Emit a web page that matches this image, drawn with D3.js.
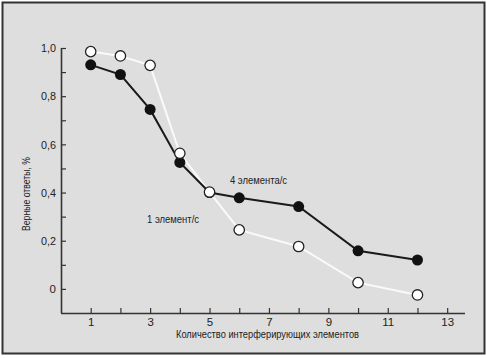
<!DOCTYPE html>
<html>
<head>
<meta charset="utf-8">
<script src="https://cdn.jsdelivr.net/npm/d3@7"></script>
<style>
  html, body { margin: 0; padding: 0; background: #fff; }
  svg text { font-family: "Liberation Sans Narrow", "Arial Narrow", "Liberation Sans", sans-serif; fill: #222; }
</style>
</head>
<body>
<div id="chart"></div>
<script>
// Data
const counts = [1, 2, 3, 4, 5, 6, 8, 10, 12];
const fast = [0.93, 0.89, 0.745, 0.525, 0.40, 0.378, 0.342, 0.158, 0.12];   // 4 элемента/с
const slow = [0.985, 0.967, 0.928, 0.563, 0.402, 0.245, 0.176, 0.026, -0.025]; // 1 элемент/с
const xTicks = [1, 2, 3, 4, 5, 6, 7, 8, 9, 10, 11, 12, 13];
const xLabeled = [1, 3, 5, 7, 9, 11, 13];
const yTicks = [0, 0.1, 0.2, 0.3, 0.4, 0.5, 0.6, 0.7, 0.8, 0.9, 1.0];
const yLabeled = [0, 0.2, 0.4, 0.6, 0.8, 1.0];

const W = 487, H = 358;

const svg = d3.select('#chart').append('svg')
  .attr('width', W).attr('height', H);

// Frame
svg.append('rect')
  .attr('x', 2.5).attr('y', 2.5).attr('width', 482).attr('height', 351)
  .attr('fill', '#dedede').attr('stroke', '#333').attr('stroke-width', 2);

const x = d3.scaleLinear().domain([0, 13.6]).range([61, 465]);
const y = d3.scaleLinear().domain([-0.1, 1.0]).range([313, 48]);

const fmt = d => d3.format('.1f')(d).replace('.', ',').replace(/^0,0$/, '0');

// Axes
const xAxis = svg.append('g')
  .attr('transform', `translate(0,${y(-0.1)})`)
  .call(d3.axisBottom(x).tickValues(xTicks).tickSize(-5).tickPadding(5)
    .tickFormat(d => xLabeled.includes(d) ? d : ''));

const yAxis = svg.append('g')
  .attr('transform', `translate(${x(0)},0)`)
  .call(d3.axisLeft(y).tickValues(yTicks).tickSize(-5).tickPadding(5)
    .tickFormat(d => yLabeled.some(v => Math.abs(v - d) < 1e-9) ? fmt(d) : ''));

[xAxis, yAxis].forEach(a => {
  a.select('.domain').attr('stroke', '#333').attr('stroke-width', 1.6);
  a.selectAll('.tick line').attr('stroke', '#333').attr('stroke-width', 1.2);
  a.selectAll('.tick text').attr('font-size', 11.5).attr('fill', '#222');
});
// replace the domain paths with plain lines matching the reference extents
xAxis.select('.domain').attr('d', `M${x(0)},0.5H${x(13.6)}`);
yAxis.select('.domain').attr('d', `M0.5,${y(-0.1)}V${y(1.0)}`);
yAxis.selectAll('.tick text').filter(function () { return this.textContent.includes(','); })
  .attr('textLength', 15).attr('lengthAdjust', 'spacingAndGlyphs');

const pts = (vals) => counts.map((c, i) => ({ x: c, y: vals[i] }));
const line = d3.line().x(d => x(d.x)).y(d => y(d.y));

// 1 элемент/с line (white)
svg.append('path').datum(pts(slow))
  .attr('fill', 'none').attr('stroke', '#fafafa').attr('stroke-width', 2)
  .attr('d', line);

// 4 элемента/с line (black)
svg.append('path').datum(pts(fast))
  .attr('fill', 'none').attr('stroke', '#1a1a1a').attr('stroke-width', 2)
  .attr('d', line);

svg.append('g').selectAll('circle').data(pts(fast)).join('circle')
  .attr('cx', d => x(d.x)).attr('cy', d => y(d.y)).attr('r', 5.5)
  .attr('fill', '#111');

svg.append('g').selectAll('circle').data(pts(slow)).join('circle')
  .attr('cx', d => x(d.x)).attr('cy', d => y(d.y)).attr('r', 5.2)
  .attr('fill', '#fff').attr('stroke', '#222').attr('stroke-width', 1.3);

// Series labels (condensed to match the narrow typeface of the original)
svg.append('text').attr('x', 230).attr('y', 184)
  .attr('font-size', 11.5).attr('textLength', 57).attr('lengthAdjust', 'spacingAndGlyphs')
  .text('4 элемента/с');
svg.append('text').attr('x', 147).attr('y', 223)
  .attr('font-size', 11.5).attr('textLength', 52).attr('lengthAdjust', 'spacingAndGlyphs')
  .text('1 элемент/с');

// Axis titles
svg.append('text').attr('x', 176).attr('y', 338)
  .attr('font-size', 11.5).attr('textLength', 183).attr('lengthAdjust', 'spacingAndGlyphs')
  .text('Количество интерферирующих элементов');
svg.append('text')
  .attr('transform', 'translate(30,231) rotate(-90)')
  .attr('font-size', 11.5).attr('textLength', 74).attr('lengthAdjust', 'spacingAndGlyphs')
  .text('Верные ответы, %');
</script>
</body>
</html>
